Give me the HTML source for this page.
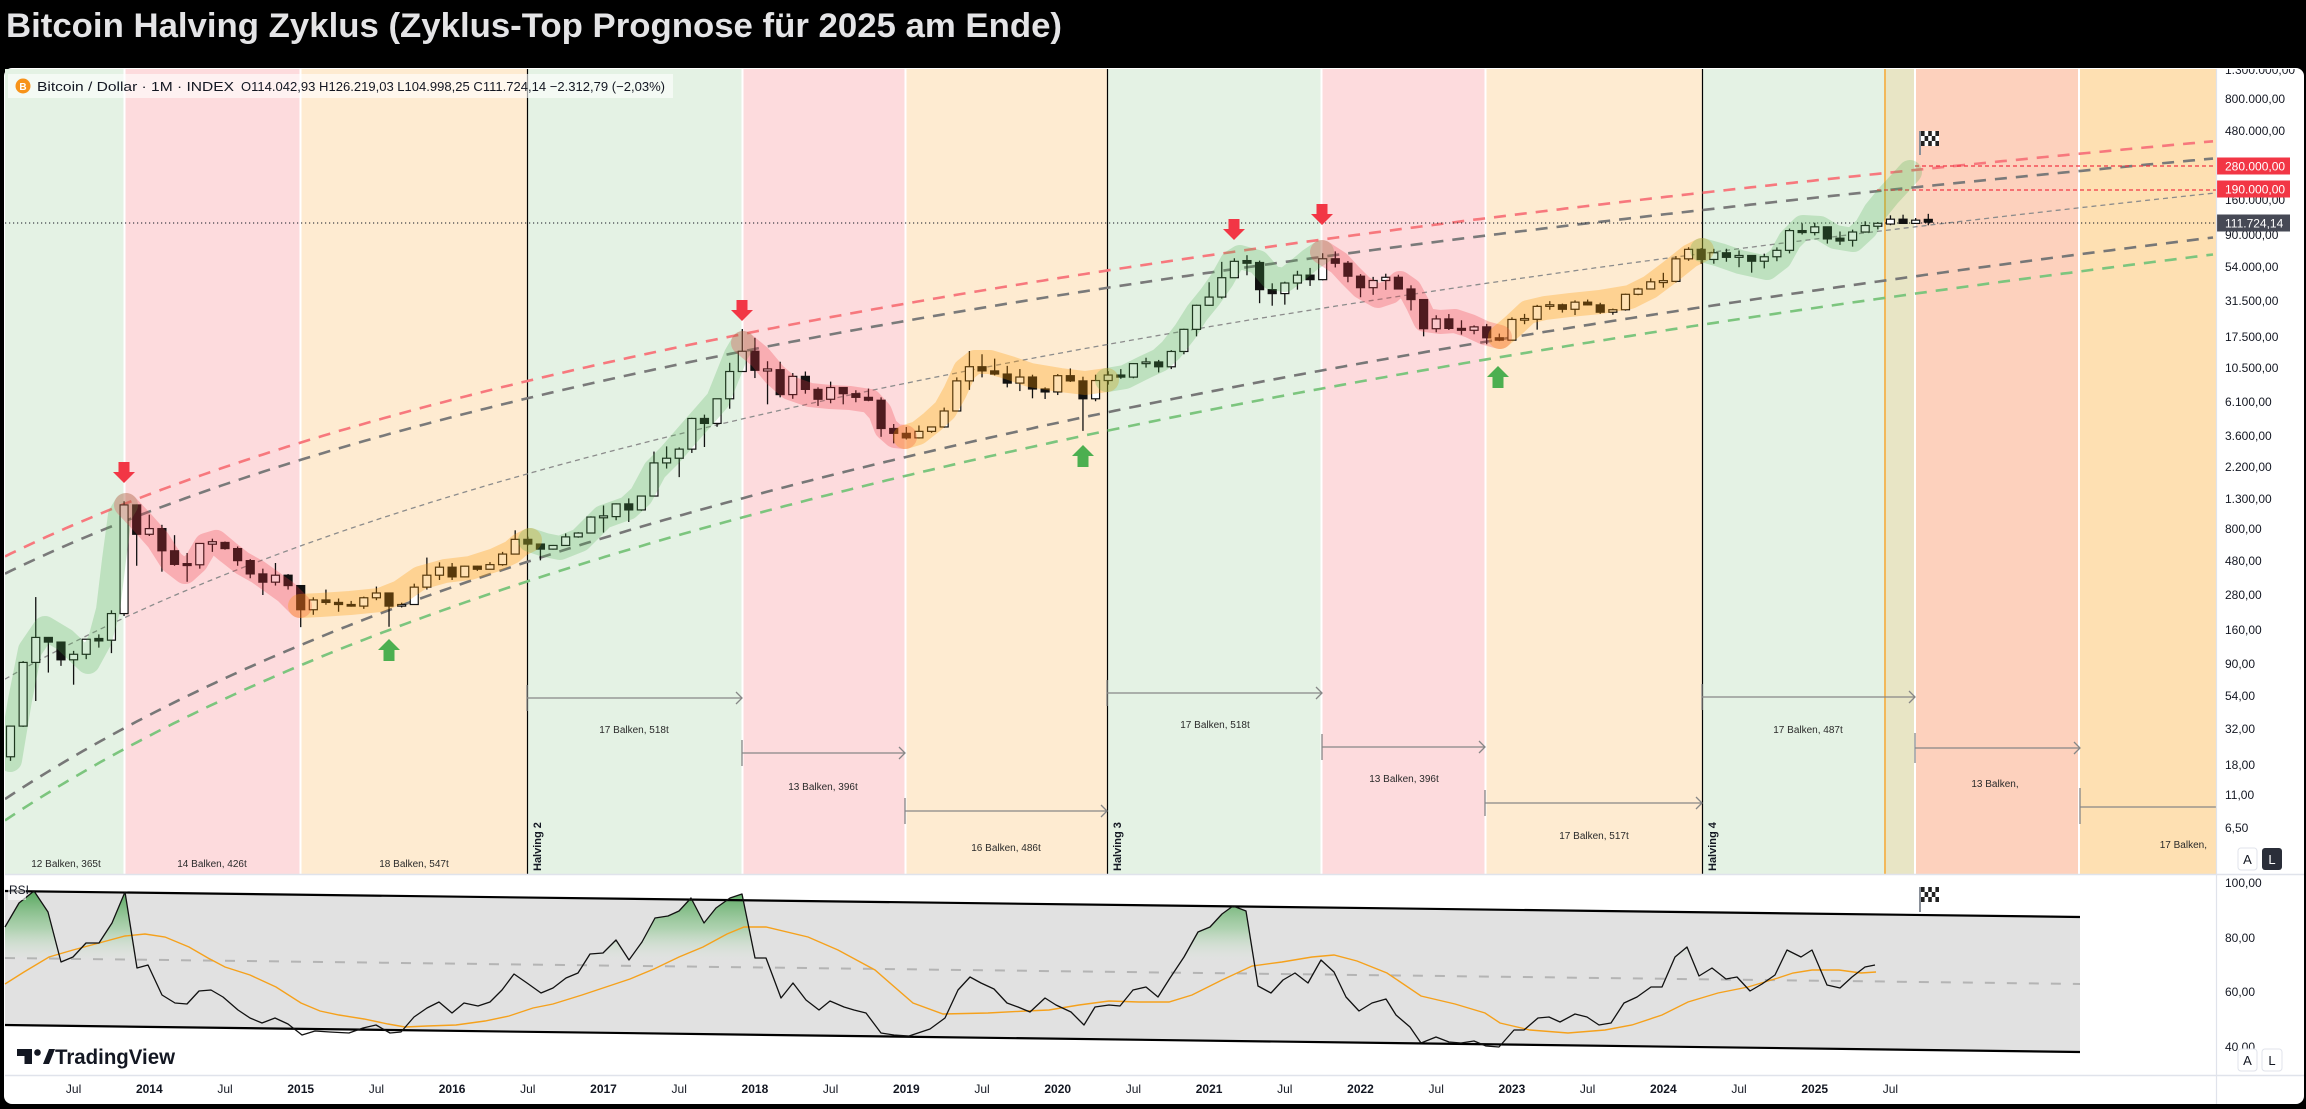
<!DOCTYPE html>
<html><head><meta charset="utf-8">
<style>
html,body{margin:0;padding:0;background:#000;width:2306px;height:1109px;overflow:hidden;}
svg{display:block;font-family:"Liberation Sans",Arial,sans-serif;}
</style></head>
<body>
<svg id="s" width="2306" height="1109" viewBox="0 0 2306 1109" xmlns="http://www.w3.org/2000/svg">
<defs>
<clipPath id="mainclip"><rect x="5" y="69" width="2211" height="805"/></clipPath>
<clipPath id="axclip"><rect x="2217" y="69" width="87" height="805"/></clipPath>
<clipPath id="rsiabove"><polygon points="5,870 2080,870 2080,984 5,958"/></clipPath>
<linearGradient id="gfill" gradientUnits="userSpaceOnUse" x1="0" y1="888" x2="0" y2="962">
<stop offset="0" stop-color="#3d9a45" stop-opacity="0.9"/>
<stop offset="0.55" stop-color="#7cc27f" stop-opacity="0.5"/>
<stop offset="1" stop-color="#d5ecd5" stop-opacity="0"/>
</linearGradient>
</defs>
<rect x="0" y="0" width="2306" height="1109" fill="#000"/>
<text x="6" y="37" font-size="34" font-weight="bold" fill="#e4e4e6" textLength="1056" lengthAdjust="spacingAndGlyphs">Bitcoin Halving Zyklus (Zyklus-Top Prognose für 2025 am Ende)</text>
<rect x="4" y="68" width="2300" height="1036" rx="8" fill="#fff"/>

<g clip-path="url(#mainclip)">
<rect x="5" y="69" width="119" height="805" fill="#e4f2e4"/>
<rect x="125" y="69" width="175" height="805" fill="#fddbdd"/>
<rect x="301" y="69" width="226" height="805" fill="#feebd1"/>
<rect x="527" y="69" width="215" height="805" fill="#e4f2e4"/>
<rect x="743" y="69" width="162" height="805" fill="#fddbdd"/>
<rect x="906" y="69" width="201" height="805" fill="#feebd1"/>
<rect x="1107" y="69" width="214" height="805" fill="#e4f2e4"/>
<rect x="1322" y="69" width="163" height="805" fill="#fddbdd"/>
<rect x="1486" y="69" width="216" height="805" fill="#feebd1"/>
<rect x="1702" y="69" width="183" height="805" fill="#e4f2e4"/>
<rect x="1885" y="69" width="30" height="805" fill="#e8e5c5"/>
<rect x="1916" y="69" width="162" height="805" fill="#fdd1bd"/>
<rect x="2080" y="69" width="136" height="805" fill="#fee0b2"/>
<g stroke="#fff" stroke-width="2">
<line x1="124.5" y1="69" x2="124.5" y2="874"/><line x1="300.5" y1="69" x2="300.5" y2="874"/>
<line x1="742.5" y1="69" x2="742.5" y2="874"/><line x1="905.5" y1="69" x2="905.5" y2="874"/>
<line x1="1321.5" y1="69" x2="1321.5" y2="874"/><line x1="1485.5" y1="69" x2="1485.5" y2="874"/>
<line x1="1915" y1="69" x2="1915" y2="874"/><line x1="2079" y1="69" x2="2079" y2="874"/>
</g>
<line x1="1885" y1="69" x2="1885" y2="874" stroke="#f2b85a" stroke-width="2"/>
<g stroke="#000" stroke-width="1.2">
<line x1="527.5" y1="69" x2="527.5" y2="874"/><line x1="1107.5" y1="69" x2="1107.5" y2="874"/><line x1="1702.5" y1="69" x2="1702.5" y2="874"/>
</g>

<g id="curves" fill="none"></g>
<line x1="5" y1="223" x2="2216" y2="223" stroke="#131722" stroke-width="1.1" stroke-dasharray="1.2 2.8"/>
<line x1="1915" y1="166" x2="2216" y2="166" stroke="#f23645" stroke-width="1.2" stroke-dasharray="4 3"/>
<line x1="1877" y1="190" x2="2216" y2="190" stroke="#f23645" stroke-width="1.2" stroke-dasharray="4 3"/>

<g id="candles"></g>

<g fill="none" stroke-width="24" stroke-linecap="round" stroke-linejoin="round">
<polyline stroke="#4caf50" stroke-opacity="0.25" points="10,760 20,700 30,650 45,628 65,640 88,662 100,640 108,610 114,560 120,515 126,505"/>
<polyline stroke="#f23645" stroke-opacity="0.28" points="126,505 142,522 158,540 172,562 185,572 196,562 206,545 216,542 228,552 242,563 258,572 272,582 286,592 300,606"/>
<polyline stroke="#ff9800" stroke-opacity="0.3" points="300,606 320,605 350,603 380,600 400,592 420,578 445,571 470,568 495,560 512,552 520,545 530,540"/>
<polyline stroke="#4caf50" stroke-opacity="0.25" points="530,540 545,545 560,548 580,540 603,517 628,508 641,496 655,470 670,455 690,432 705,415 718,400 728,375 736,355 743,343"/>
<polyline stroke="#f23645" stroke-opacity="0.28" points="743,343 760,357 775,375 790,388 810,395 830,397 850,398 870,401 880,412 886,428 895,436 905,437"/>
<polyline stroke="#ff9800" stroke-opacity="0.3" points="905,437 918,433 932,422 945,410 955,392 965,370 975,362 990,362 1010,368 1030,375 1060,380 1085,383 1107,380"/>
<polyline stroke="#4caf50" stroke-opacity="0.25" points="1107,380 1125,377 1145,367 1160,360 1171,350 1185,332 1197,313 1210,297 1222,280 1232,262 1240,257 1258,262 1272,278 1285,280 1298,270 1310,260 1322,252"/>
<polyline stroke="#f23645" stroke-opacity="0.28" points="1322,252 1339,263 1350,275 1362,287 1378,296 1390,292 1400,283 1410,290 1418,305 1425,320 1440,322 1455,321 1470,326 1485,333 1500,337"/>
<polyline stroke="#ff9800" stroke-opacity="0.3" points="1500,337 1512,327 1528,312 1545,308 1570,305 1600,302 1630,297 1650,287 1670,272 1690,256 1702,250"/>
<polyline stroke="#4caf50" stroke-opacity="0.25" points="1702,250 1720,255 1740,262 1767,268 1780,258 1790,240 1803,227 1820,228 1835,237 1853,240 1866,228 1875,212 1888,196 1900,183 1910,172"/>
</g>

<g fill="#f23645">
<path d="M118.5 462h11v10h5.5l-11 11-11-11h5.5z"/>
<path d="M736.5 300h11v10h5.5l-11 11-11-11h5.5z"/>
<path d="M1228.5 219h11v10h5.5l-11 11-11-11h5.5z"/>
<path d="M1316.5 204h11v10h5.5l-11 11-11-11h5.5z"/>
</g>
<g fill="#4caf50">
<path d="M389 639l11 11h-5.5v11h-11v-11h-5.5z"/>
<path d="M1083 445l11 11h-5.5v11h-11v-11h-5.5z"/>
<path d="M1498 366l11 11h-5.5v11h-11v-11h-5.5z"/>
</g>

<g fill="#555" stroke="none">
<rect x="1919" y="131" width="2" height="24" fill="#8a9099"/>
</g>
<g>
<rect x="1921" y="131" width="18" height="15" fill="#fff"/>
<g fill="#222">
<rect x="1921" y="131" width="3.6" height="5"/><rect x="1928.2" y="131" width="3.6" height="5"/><rect x="1935.4" y="131" width="3.6" height="5"/>
<rect x="1924.6" y="136" width="3.6" height="5"/><rect x="1931.8" y="136" width="3.6" height="5"/>
<rect x="1921" y="141" width="3.6" height="5"/><rect x="1928.2" y="141" width="3.6" height="5"/><rect x="1935.4" y="141" width="3.6" height="5"/>
</g>
</g>

<g stroke="#878787" stroke-width="1.3" fill="none">
<line x1="527" y1="698" x2="742" y2="698"/><line x1="527" y1="685" x2="527" y2="711"/><polyline points="736,692 742,698 736,704"/>
<line x1="742" y1="753" x2="905" y2="753"/><line x1="742" y1="740" x2="742" y2="766"/><polyline points="899,747 905,753 899,759"/>
<line x1="905" y1="811" x2="1107" y2="811"/><line x1="905" y1="798" x2="905" y2="824"/><polyline points="1101,805 1107,811 1101,817"/>
<line x1="1107" y1="693" x2="1322" y2="693"/><line x1="1107" y1="680" x2="1107" y2="706"/><polyline points="1316,687 1322,693 1316,699"/>
<line x1="1322" y1="747" x2="1485" y2="747"/><line x1="1322" y1="734" x2="1322" y2="760"/><polyline points="1479,741 1485,747 1479,753"/>
<line x1="1485" y1="803" x2="1702" y2="803"/><line x1="1485" y1="790" x2="1485" y2="816"/><polyline points="1696,797 1702,803 1696,809"/>
<line x1="1702" y1="697" x2="1915" y2="697"/><line x1="1702" y1="684" x2="1702" y2="710"/><polyline points="1909,691 1915,697 1909,703"/>
<line x1="1915" y1="748" x2="2080" y2="748"/><line x1="1915" y1="733" x2="1915" y2="763"/><polyline points="2074,742 2080,748 2074,754"/>
<line x1="2080" y1="807" x2="2216" y2="807"/><line x1="2080" y1="788" x2="2080" y2="824"/>
</g>
<g font-size="10" fill="#2a2a2a" text-anchor="middle">
<text x="66" y="867">12 Balken, 365t</text>
<text x="212" y="867">14 Balken, 426t</text>
<text x="414" y="867">18 Balken, 547t</text>
<text x="634" y="733">17 Balken, 518t</text>
<text x="823" y="790">13 Balken, 396t</text>
<text x="1006" y="851">16 Balken, 486t</text>
<text x="1215" y="728">17 Balken, 518t</text>
<text x="1404" y="782">13 Balken, 396t</text>
<text x="1594" y="839">17 Balken, 517t</text>
<text x="1808" y="733">17 Balken, 487t</text>
<text x="1995" y="787">13 Balken,</text>
<text x="2207" y="848" text-anchor="end">17 Balken,</text>
</g>
<g font-size="11" font-weight="bold" fill="#131722">
<text transform="translate(541,871) rotate(-90)">Halving 2</text>
<text transform="translate(1121,871) rotate(-90)">Halving 3</text>
<text transform="translate(1716,871) rotate(-90)">Halving 4</text>
</g>

<rect x="8" y="74" width="665" height="24" fill="#fff" fill-opacity="0.6"/>
<circle cx="23" cy="86" r="7.5" fill="#f7931a"/>
<text x="23" y="90" font-size="10" font-weight="bold" fill="#fff" text-anchor="middle">B</text>
<text x="37" y="91" font-size="13" fill="#131722" textLength="197" lengthAdjust="spacingAndGlyphs">Bitcoin / Dollar · 1M · INDEX</text>
<text x="241" y="91" font-size="13" fill="#131722" textLength="424" lengthAdjust="spacingAndGlyphs">O114.042,93 H126.219,03 L104.998,25 C111.724,14 −2.312,79 (−2,03%)</text>
</g>

<!-- price axis -->
<g clip-path="url(#axclip)" font-size="12" fill="#131722">
<text x="2225" y="74">1.300.000,00</text>
<text x="2225" y="103">800.000,00</text>
<text x="2225" y="135">480.000,00</text>
<text x="2225" y="204">160.000,00</text>
<text x="2225" y="239">90.000,00</text>
<text x="2225" y="271">54.000,00</text>
<text x="2225" y="305">31.500,00</text>
<text x="2225" y="341">17.500,00</text>
<text x="2225" y="372">10.500,00</text>
<text x="2225" y="406">6.100,00</text>
<text x="2225" y="440">3.600,00</text>
<text x="2225" y="471">2.200,00</text>
<text x="2225" y="503">1.300,00</text>
<text x="2225" y="533">800,00</text>
<text x="2225" y="565">480,00</text>
<text x="2225" y="599">280,00</text>
<text x="2225" y="634">160,00</text>
<text x="2225" y="668">90,00</text>
<text x="2225" y="700">54,00</text>
<text x="2225" y="733">32,00</text>
<text x="2225" y="769">18,00</text>
<text x="2225" y="799">11,00</text>
<text x="2225" y="832">6,50</text>
<rect x="2217" y="157.5" width="73" height="17" fill="#f23645"/>
<text x="2225" y="170.5" fill="#fff">280.000,00</text>
<rect x="2217" y="180.5" width="73" height="17" fill="#f23645"/>
<text x="2225" y="193.5" fill="#fff">190.000,00</text>
<rect x="2217" y="214.5" width="73" height="17" fill="#464955"/>
<text x="2225" y="227.5" fill="#fff">111.724,14</text>
</g>
<rect x="2238" y="848" width="19" height="22" rx="3" fill="#fff" stroke="#e0e3eb"/>
<text x="2247.5" y="864" font-size="13" fill="#131722" text-anchor="middle">A</text>
<rect x="2262" y="848" width="20" height="22" rx="3" fill="#2a2e39"/>
<text x="2272" y="864" font-size="13" fill="#fff" text-anchor="middle">L</text>

<!-- separators -->
<line x1="5" y1="874.5" x2="2304" y2="874.5" stroke="#e0e3eb" stroke-width="1.5"/>
<line x1="5" y1="1075.5" x2="2304" y2="1075.5" stroke="#e0e3eb" stroke-width="1.5"/>
<line x1="2216.5" y1="69" x2="2216.5" y2="1104" stroke="#e0e3eb" stroke-width="1.2"/>

<!-- RSI pane -->
<polygon points="5,891 2080,917 2080,1052 5,1025" fill="#e1e1e1"/>
<line x1="5" y1="958" x2="2080" y2="984" stroke="#b4b4b4" stroke-width="2" stroke-dasharray="10 12"/>
<g clip-path="url(#rsiabove)">
<polygon fill="url(#gfill)" points="5,927 19,903 34,891 48,912 61,962 73,957 86,943 99,943 112,923 125,892 137,968 148,965 162,995 175,1003 187,1004 199,991 211,990 223,997 238,1010 250,1018 262,1023 275,1018 288,1024 302,1035 315,1031 330,1032 349,1033 363,1028 376,1025 390,1033 401,1032 414,1017 427,1008 439,1002 452,1013 464,1003 478,1006 490,1002 502,990 514,974 527,983 541,993 553,988 566,978 578,973 590,954 603,953 616,940 629,960 642,942 655,918 668,916 679,911 691,898 704,923 716,908 730,898 742,894 755,958 766,958 781,998 793,983 806,1000 819,1010 830,1001 844,1007 854,1010 866,1013 881,1033 894,1035 909,1036 930,1029 945,1018 958,990 970,977 981,983 994,989 1007,1003 1018,1007 1030,1012 1045,998 1056,1005 1071,1012 1084,1025 1095,1007 1109,1005 1120,1006 1133,990 1146,987 1158,997 1170,978 1184,957 1198,932 1210,927 1222,914 1233,906 1246,911 1258,986 1271,993 1283,980 1295,973 1308,983 1321,960 1334,972 1346,997 1359,1011 1372,1003 1386,999 1396,1015 1410,1027 1421,1043 1436,1037 1449,1042 1461,1043 1474,1041 1486,1046 1499,1047 1514,1030 1524,1030 1538,1018 1549,1017 1560,1022 1575,1014 1587,1017 1599,1025 1611,1023 1624,1003 1637,997 1651,987 1662,987 1675,957 1687,947 1699,976 1712,968 1726,979 1737,977 1750,991 1762,984 1775,975 1787,950 1801,957 1812,950 1827,985 1840,988 1852,977 1865,967 1875,965 1875,1100 5,1100"/>
</g>
<line x1="5" y1="891" x2="2080" y2="917" stroke="#000" stroke-width="2.2"/>
<line x1="5" y1="1025" x2="2080" y2="1052" stroke="#000" stroke-width="2.2"/>
<polyline fill="none" stroke="#f5a11c" stroke-width="1.4" points="5,984 24,972 49,957 73,950 99,943 125,936 145,934 165,937 189,947 208,958 225,967 250,975 276,987 301,1003 320,1011 339,1015 364,1019 388,1024 405,1027 427,1026 456,1025 485,1021 509,1016 533,1008 553,1004 582,995 606,987 630,979 654,969 679,957 703,947 727,934 744,927 766,927 808,937 838,950 875,970 913,1003 943,1014 988,1013 1026,1011 1049,1010 1079,1005 1109,1001 1139,1002 1169,1002 1192,995 1222,980 1252,966 1282,962 1312,957 1334,955 1357,961 1387,973 1421,996 1455,1004 1485,1013 1500,1023 1530,1030 1568,1033 1605,1030 1632,1025 1662,1015 1688,1002 1718,993 1748,987 1778,978 1793,973 1812,970 1839,970 1861,973 1876,972"/>
<polyline fill="none" stroke="#111" stroke-width="1.3" stroke-linejoin="round" points="5,927 19,903 34,891 48,912 61,962 73,957 86,943 99,943 112,923 125,892 137,968 148,965 162,995 175,1003 187,1004 199,991 211,990 223,997 238,1010 250,1018 262,1023 275,1018 288,1024 302,1035 315,1031 330,1032 349,1033 363,1028 376,1025 390,1033 401,1032 414,1017 427,1008 439,1002 452,1013 464,1003 478,1006 490,1002 502,990 514,974 527,983 541,993 553,988 566,978 578,973 590,954 603,953 616,940 629,960 642,942 655,918 668,916 679,911 691,898 704,923 716,908 730,898 742,894 755,958 766,958 781,998 793,983 806,1000 819,1010 830,1001 844,1007 854,1010 866,1013 881,1033 894,1035 909,1036 930,1029 945,1018 958,990 970,977 981,983 994,989 1007,1003 1018,1007 1030,1012 1045,998 1056,1005 1071,1012 1084,1025 1095,1007 1109,1005 1120,1006 1133,990 1146,987 1158,997 1170,978 1184,957 1198,932 1210,927 1222,914 1233,906 1246,911 1258,986 1271,993 1283,980 1295,973 1308,983 1321,960 1334,972 1346,997 1359,1011 1372,1003 1386,999 1396,1015 1410,1027 1421,1043 1436,1037 1449,1042 1461,1043 1474,1041 1486,1046 1499,1047 1514,1030 1524,1030 1538,1018 1549,1017 1560,1022 1575,1014 1587,1017 1599,1025 1611,1023 1624,1003 1637,997 1651,987 1662,987 1675,957 1687,947 1699,976 1712,968 1726,979 1737,977 1750,991 1762,984 1775,975 1787,950 1801,957 1812,950 1827,985 1840,988 1852,977 1865,967 1875,965"/>
<rect x="8" y="880" width="18" height="20" fill="#fff" fill-opacity="0.6"/>
<text x="9" y="894" font-size="12" fill="#131722">RSI</text>
<rect x="1919" y="887" width="2" height="25" fill="#8a9099"/>
<rect x="1921" y="887" width="18" height="15" fill="#fff"/>
<g fill="#222">
<rect x="1921" y="887" width="3.6" height="5"/><rect x="1928.2" y="887" width="3.6" height="5"/><rect x="1935.4" y="887" width="3.6" height="5"/>
<rect x="1924.6" y="892" width="3.6" height="5"/><rect x="1931.8" y="892" width="3.6" height="5"/>
<rect x="1921" y="897" width="3.6" height="5"/><rect x="1928.2" y="897" width="3.6" height="5"/><rect x="1935.4" y="897" width="3.6" height="5"/>
</g>
<g fill="#131722">
<path d="M17 1049h15v15h-7.5v-8h-7.5z"/>
<circle cx="37.5" cy="1052.5" r="3.3"/>
<path d="M43 1064l6-15h6l-6 15z"/>
</g>
<text x="55" y="1064" font-size="21" font-weight="bold" fill="#131722" textLength="120" lengthAdjust="spacingAndGlyphs">TradingView</text>

<g font-size="12" fill="#131722">
<text x="2225" y="887">100,00</text>
<text x="2225" y="942">80,00</text>
<text x="2225" y="996">60,00</text>
<text x="2225" y="1051">40,00</text>
</g>
<rect x="2238" y="1049" width="19" height="22" rx="3" fill="#fff" stroke="#e0e3eb"/>
<text x="2247.5" y="1065" font-size="13" fill="#131722" text-anchor="middle">A</text>
<rect x="2262" y="1049" width="20" height="22" rx="3" fill="#fff" stroke="#e0e3eb"/>
<text x="2272" y="1065" font-size="13" fill="#131722" text-anchor="middle">L</text>

<!-- time axis -->
<g font-size="12" fill="#131722" text-anchor="middle">
<text x="73.6" y="1093">Jul</text>
<text x="149.3" y="1093" font-weight="bold">2014</text>
<text x="225" y="1093">Jul</text>
<text x="300.7" y="1093" font-weight="bold">2015</text>
<text x="376.4" y="1093">Jul</text>
<text x="452.1" y="1093" font-weight="bold">2016</text>
<text x="527.8" y="1093">Jul</text>
<text x="603.5" y="1093" font-weight="bold">2017</text>
<text x="679.2" y="1093">Jul</text>
<text x="754.9" y="1093" font-weight="bold">2018</text>
<text x="830.6" y="1093">Jul</text>
<text x="906.3" y="1093" font-weight="bold">2019</text>
<text x="982" y="1093">Jul</text>
<text x="1057.7" y="1093" font-weight="bold">2020</text>
<text x="1133.4" y="1093">Jul</text>
<text x="1209.1" y="1093" font-weight="bold">2021</text>
<text x="1284.8" y="1093">Jul</text>
<text x="1360.5" y="1093" font-weight="bold">2022</text>
<text x="1436.2" y="1093">Jul</text>
<text x="1511.9" y="1093" font-weight="bold">2023</text>
<text x="1587.6" y="1093">Jul</text>
<text x="1663.3" y="1093" font-weight="bold">2024</text>
<text x="1739" y="1093">Jul</text>
<text x="1814.7" y="1093" font-weight="bold">2025</text>
<text x="1890.4" y="1093">Jul</text>
</g>
</svg>
<script>
(function(){
var NS="http://www.w3.org/2000/svg";
function Y(p){return 99+(5.903-Math.log10(p))*143.2;}
function X(m){return 149.3+12.617*m;}
var cg=document.getElementById('curves');
function curve(A,B,col,w,dash){
  var d='';for(var x=5;x<=2216;x+=6){var y=A-B*Math.log(x+500);d+=(x==5?'M':'L')+x+' '+y.toFixed(1)+' ';}
  var p=document.createElementNS(NS,'path');p.setAttribute('d',d);p.setAttribute('stroke',col);
  p.setAttribute('stroke-width',w);p.setAttribute('stroke-dasharray',dash);p.setAttribute('fill','none');cg.appendChild(p);
}
curve(2093.2,246.9,'#f7787d',2.6,'12 9');
curve(2110.5,246.9,'#7a7a7a',2.6,'12 9');
curve(2478,289,'#8c8c8c',1.3,'5 4');
curve(2878,334,'#777777',2.6,'12 9');
curve(2915.6,336.6,'#7cc57e',2.6,'12 9');
var data=[
[20.4,33.6,19.1,33.4],[33.4,95,33,93],[93,266,50,139],[139,140,79,129],[129,130,88,97],[97,112,65,106],[106,135,98,135],[135,146,118,133],[133,215,108,204],[204,1242,196,1170],[1170,1180,440,730],
[730,1000,710,800],[800,850,400,560],[560,720,440,450],[450,540,340,447],[447,630,420,630],[630,680,550,640],[640,650,570,580],[580,600,440,478],[478,490,360,386],[386,420,275,338],[338,460,320,378],[378,385,300,320],
[320,320,164,217],[217,265,200,254],[254,300,235,244],[244,260,210,236],[236,250,228,230],[230,268,220,263],[263,315,253,284],[284,285,165,230],[230,243,225,236],[236,330,236,312],[312,502,300,378],[378,465,350,430],
[430,460,350,368],[368,440,365,437],[437,440,405,416],[416,467,414,448],[448,550,440,531],[531,778,531,673],[673,703,610,624],[624,626,480,575],[575,615,570,610],[610,740,605,700],[700,755,690,745],[745,975,740,963],
[963,1160,750,970],[970,1200,915,1190],[1190,1300,890,1080],[1080,1350,1065,1350],[1350,2760,1350,2300],[2300,3000,2100,2480],[2480,2950,1830,2870],[2870,4750,2700,4700],[4700,5000,2970,4340],[4340,6470,4110,6450],[6450,11500,5500,10000],[10000,19800,10000,13850],
[13850,17200,9000,10200],[10200,11800,5900,10300],[10300,11700,6600,6900],[6900,9750,6450,9250],[9250,10000,7000,7500],[7500,7750,5750,6400],[6400,8500,6000,7730],[7730,7780,5900,7000],[7000,7400,6100,6600],[6600,7600,6200,6300],[6300,6600,3500,4000],[4000,4300,3150,3700],
[3700,4100,3350,3440],[3440,4200,3400,3820],[3820,4100,3730,4100],[4100,5600,4050,5300],[5300,9100,5300,8600],[8600,13900,7450,10800],[10800,13200,9100,10100],[10100,12300,9400,9600],[9600,10950,7750,8300],[8300,10400,7300,9150],[9150,9500,6500,7550],[7550,7750,6430,7200],
[7200,9600,6850,9350],[9350,10500,8450,8600],[8600,9200,3850,6450],[6450,9500,6200,8650],[8650,10050,8100,9450],[9450,10400,8900,9140],[9140,11450,8970,11350],[11350,12480,10650,11660],[11660,12050,9850,10790],[10790,14100,10400,13800],[13800,19900,13200,19700],[19700,29300,17600,29000],
[29000,42000,28800,33100],[33100,58300,32300,45200],[45200,61800,45000,58800],[58800,64900,47000,57700],[57700,59500,30000,37300],[37300,41300,28800,35000],[35000,42400,29300,41500],[41500,50500,37300,47100],[47100,52900,39600,43800],[43800,67000,43300,61300],[61300,69000,53300,57000],[57000,59100,42000,46300],
[46300,47900,33000,38500],[38500,45800,34300,43200],[43200,48200,37200,45500],[45500,47400,37600,37700],[37700,40000,26700,31800],[31800,31900,17600,19900],[19900,24700,18800,23300],[23300,25200,19500,20000],[20000,22800,18100,19400],[19400,21000,18200,20500],[20500,21500,15500,17200],[17200,18400,16300,16550],
[16550,23900,16500,23100],[23100,25250,21400,23150],[23150,29200,19600,28500],[28500,31000,27000,29250],[29250,29800,25800,27200],[27200,31400,24800,30500],[30500,31800,28900,29200],[29200,30200,25300,25950],[25950,27500,24900,27000],[27000,35000,26600,34600],[34600,38400,34100,37700],[37700,44700,37600,42300],
[42300,48900,38500,42600],[42600,64000,41900,61200],[61200,73800,59300,71300],[71300,72800,56500,60600],[60600,71900,56600,67500],[67500,72000,58400,62700],[62700,70000,53500,64600],[64600,65000,49000,58900],[58900,66500,52500,63300],[63300,73600,58900,70200],[70200,99600,66800,96400],[96400,108300,90500,93400],
[93400,109400,89200,102400],[102400,102500,78200,84300],[84300,95000,76600,82500],[82500,97900,74500,94200],[94200,112000,93300,104600],[104600,110600,98200,107100],[107100,123200,105100,115800],[115800,124500,107300,108200],[108200,117900,107300,114000],[114043,126219,104998,111724]
];
var g=document.getElementById('candles');
for(var i=0;i<data.length;i++){
  var d=data[i],x=X(i-11),o=d[0],h=d[1],l=d[2],c=d[3];
  var w=document.createElementNS(NS,'line');
  w.setAttribute('x1',x);w.setAttribute('x2',x);w.setAttribute('y1',Y(h));w.setAttribute('y2',Y(l));
  w.setAttribute('stroke','#111');w.setAttribute('stroke-width','1.3');g.appendChild(w);
  var yt=Math.min(Y(o),Y(c)),yb=Math.max(Y(o),Y(c));if(yb-yt<1.5){yt-=0.75;yb+=0.75;}
  var r=document.createElementNS(NS,'rect');
  r.setAttribute('x',x-4);r.setAttribute('y',yt);r.setAttribute('width',8);r.setAttribute('height',yb-yt);
  r.setAttribute('fill',c>=o?'#fff':'#111');r.setAttribute('stroke','#111');r.setAttribute('stroke-width','1.2');g.appendChild(r);
}
})();
</script>
</body></html>
